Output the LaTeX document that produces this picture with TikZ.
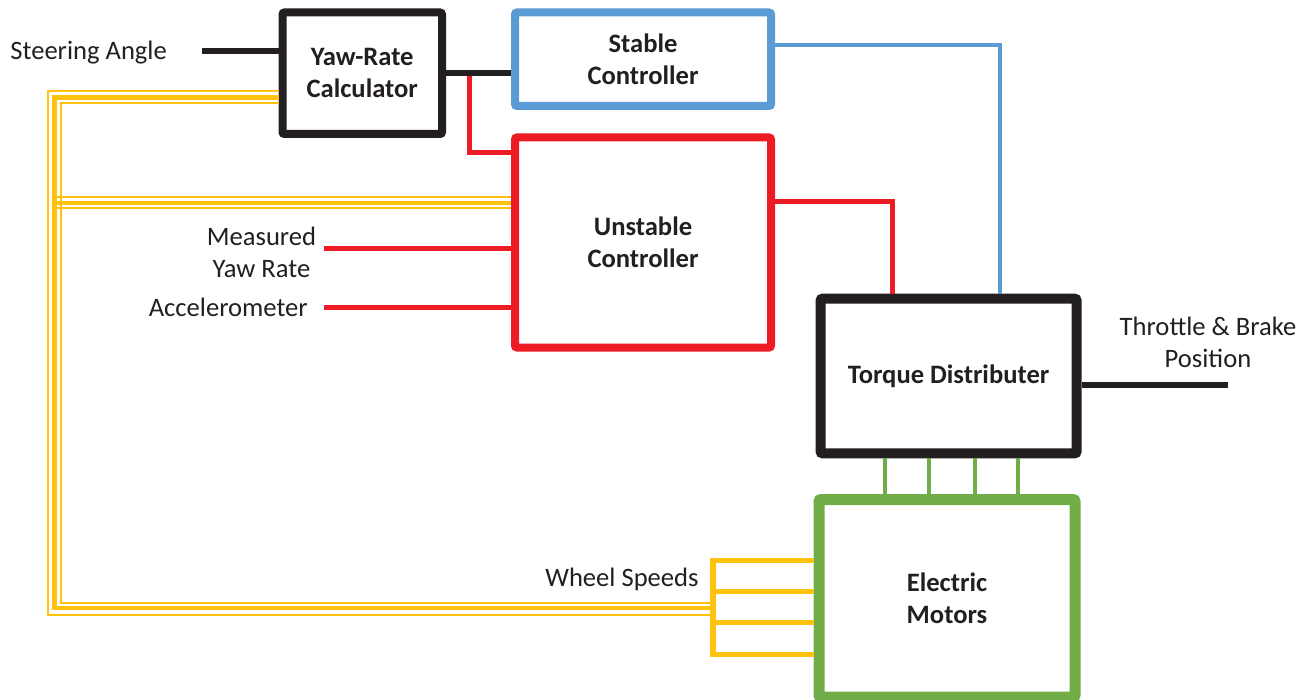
\documentclass[tikz,border=0pt]{standalone}
\usepackage{fontspec}
\setmainfont{Carlito}
\definecolor{kblack}{HTML}{231F20}
\definecolor{kblue}{HTML}{5B9BD5}
\definecolor{kred}{HTML}{ED1C24}
\definecolor{kgreen}{HTML}{70AD47}
\definecolor{kyellow}{HTML}{FFC20E}
\begin{document}
\begin{tikzpicture}[x=0.5pt,y=-0.5pt,
  box/.style={draw, rounded corners=1pt, inner sep=0pt, align=center,
    font=\bfseries\fontsize{13.3}{16}\selectfont, text=kblack},
  lbl/.style={inner sep=0pt, font=\fontsize{13.3}{16}\selectfont, text=kblack},
  kwire/.style={draw=kblack, line width=3pt},
  bwire/.style={draw=kblue, line width=2pt},
  rwire/.style={draw=kred, line width=2.5pt},
  gwire/.style={draw=kgreen, line width=2.25pt},
  ythin/.style={draw=kyellow, line width=1pt},
  ythick/.style={draw=kyellow, line width=2.25pt},
  ywire/.style={draw=kyellow, line width=2.5pt}]
\useasboundingbox (0,0) rectangle (1316,700);

% boxes
\node[box, draw=kblack, line width=4pt, minimum width=79.75pt, minimum height=60.75pt] (yaw) at (362.25,73.25) {Yaw-Rate\\Calculator};
\node[box, draw=kblue, line width=4pt, minimum width=128pt, minimum height=46.75pt] (stable) at (643,59.25) {Stable\\Controller};
\node[box, draw=kred, line width=4pt, minimum width=128pt, minimum height=105pt] (unstable) at (643,242.5) {Unstable\\Controller};
\node[box, draw=kblack, line width=5pt, minimum width=128pt, minimum height=77.3pt] (torque) at (948.6,376) {Torque Distributer};
\node[box, draw=kgreen, line width=5.5pt, minimum width=128pt, minimum height=98.75pt] (motors) at (947,598.25) {Electric\\Motors};

% labels
\node[lbl, anchor=base west] (steer) at (10,59.5) {Steering Angle};
\node[lbl, align=center, anchor=base] (meas) at (261.5,278) {Measured\\Yaw Rate};
\node[lbl, anchor=base east] (accel) at (308,316) {Accelerometer};
\node[lbl, align=center, anchor=base] (throttle) at (1208,367.5) {Throttle \& Brake\\Position};
\node[lbl, anchor=base east] (wheel) at (699,586) {Wheel Speeds};

% black connectors
\coordinate (sa) at (202,51);
\draw[kwire] (sa) -- (sa -| yaw.west);
\draw[kwire] (yaw.east) -- (stable.west |- yaw.east);
\coordinate (t1) at (1228,385);
\draw[kwire] (t1 -| torque.east) -- (t1);

% red connectors
\coordinate (r1) at (469,76);
\coordinate (r2) at (469,153);
\draw[rwire] (r1) -- (r2) -- (r2 -| unstable.west);
\coordinate (r3) at (892.7,201.7);
\draw[rwire] (r3 -| unstable.east) -- (r3) -- (r3 |- torque.north);
\coordinate (m1) at (324,248.3);
\draw[rwire] (m1) -- (m1 -| unstable.west);
\coordinate (a1) at (324,307.3);
\draw[rwire] (a1) -- (a1 -| unstable.west);

% blue connector
\coordinate (b1) at (1000,45);
\draw[bwire] (b1 -| stable.east) -- (b1) -- (b1 |- torque.north);

% green connectors
\foreach \x [count=\i] in {885,929,975,1018} {
  \coordinate (g\i) at (\x,0);
  \draw[gwire] (g\i |- torque.south) -- (g\i |- motors.north);
}

% yellow bundle
\coordinate (yo) at (48,91);
\coordinate (ym) at (54.5,97.5);
\coordinate (yi) at (61,103.5);
\coordinate (wb1) at (712.7,558);
\coordinate (wb2) at (712.7,657);
\draw[ythin, line join=miter] (yo -| yaw.west) -- (yo) -- (48,614.5) -- (710,614.5);
\draw[ythick, line join=miter] (ym -| yaw.west) -- (ym) -- (54.5,608) -- (710,608);
\draw[ythin, line join=miter] (yi -| yaw.west) -- (yi) -- (61,602.5) -- (710,602.5);
\coordinate (yb1) at (55,197);
\coordinate (yb2) at (55,203);
\coordinate (yb3) at (55,208);
\draw[ythin] (yb1) -- (yb1 -| unstable.west);
\draw[ythick] (yb2) -- (yb2 -| unstable.west);
\draw[ythin] (yb3) -- (yb3 -| unstable.west);
\draw[draw=kyellow, line width=3pt] (wb1) -- (wb2);
\foreach \y [count=\i] in {560.5,591,622.5,654} {
  \coordinate (w\i) at (711,\y);
  \draw[ywire] (w\i) -- (w\i -| motors.west);
}
\end{tikzpicture}
\end{document}
